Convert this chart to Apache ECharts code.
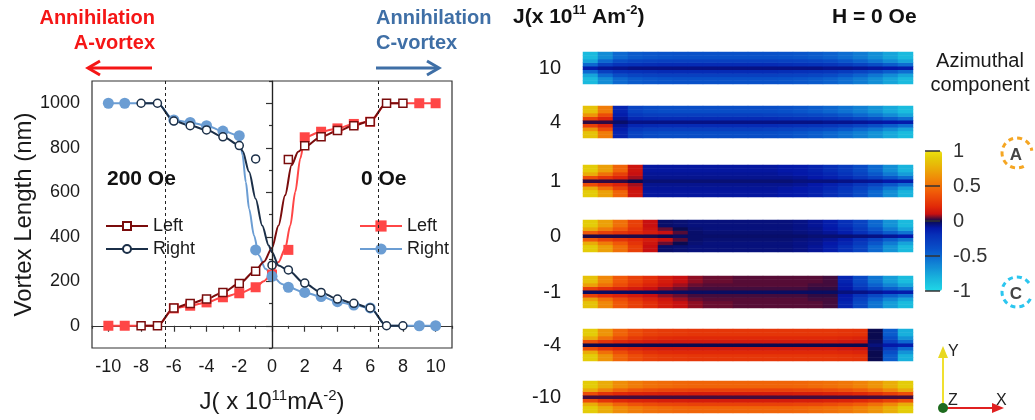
<!DOCTYPE html>
<html><head><meta charset="utf-8">
<script src="https://cdn.jsdelivr.net/npm/echarts@6/dist/echarts.min.js"></script>
<style>html,body{margin:0;padding:0;background:#fff}#c{width:1035px;height:420px}</style>
</head><body><div id="c"></div>
<script>
// ---------------- data: left panel (J in 1e11 A/m^2, vortex length in nm) ----------------
const pts0Left   = [[-10,0],[-9,0],[-6,78],[-5,90],[-4,105],[-3,128],[-2,146],[-1,173],[0,230],[1,341],[2,847],[3,872],[4,887],[5,907],[6,917],[9,1000],[10,1000]];
const pts0Right  = [[-10,1000],[-9,1000],[-6,925],[-5,914],[-4,899],[-3,875],[-2,854],[-1,341],[0,222],[1,173],[2,150],[3,131],[4,108],[5,93],[6,80],[9,0],[10,0]];
const pts200Left = [[-8,0],[-7,0],[-6,80],[-5,100],[-4,120],[-3,150],[-2,190],[-1,245],[1,747],[2,809],[3,849],[4,878],[5,899],[6,917],[7,1000],[8,1000]];
const pts200Right= [[-8,1000],[-7,1000],[-6,920],[-5,899],[-4,880],[-3,849],[-2,810],[-1,750],[0,272],[1,251],[2,192],[3,150],[4,120],[5,101],[6,80],[7,0],[8,0]];
// fitted curves
const fit0Left   = [[-10,0],[-9,0],[-8,0],[-7,0],[-6,78],[-5,90],[-4,105],[-3,128],[-2,146],[-1,173],[-0.5,200],[0,238],[0.4,286],[0.8,346],[1.12,451],[1.42,601],[1.73,752],[2,847],[3,872],[4,887],[5,907],[6,917],[7,1000],[8,1000],[9,1000],[10,1000]];
const fit0Right  = [[-10,1000],[-9,1000],[-8,1000],[-7,1000],[-6,925],[-5,914],[-4,899],[-3,875],[-2,854],[-1.8,767],[-1.6,646],[-1.4,526],[-1.1,406],[-0.8,316],[-0.4,256],[0,226],[0.6,188],[1,173],[2,150],[3,131],[4,108],[5,93],[6,80],[7,0],[8,0],[9,0],[10,0]];
const fit200Left = [[-8,0],[-7,0],[-6,80],[-5,100],[-4,120],[-3,150],[-2,190],[-1,248],[-0.5,288],[0,350],[0.4,451],[0.8,586],[1.2,722],[1.6,782],[2,805],[3,850],[4,875],[5,900],[6,920],[7,1000],[8,1000]];
const fit200Right= [[-8,1000],[-7,1000],[-6,920],[-5,900],[-4,880],[-3,850],[-2,812],[-1.8,785],[-1.4,692],[-1,571],[-0.6,451],[-0.2,361],[0,330],[0.4,271],[1,248],[2,190],[3,150],[4,120],[5,100],[6,80],[7,0],[8,0]];
const markJ = [-6.5, 6.5];

// ---------------- data: right panel, azimuthal component along each strip ----------------
// rows per strip: [outer edge, mid, inner, centre line]; 22 samples along the wire
const s10 = [
 [-0.85,-0.65,-0.5,-0.44,-0.42,-0.41,-0.4,-0.4,-0.4,-0.4,-0.4,-0.4,-0.4,-0.41,-0.42,-0.44,-0.47,-0.52,-0.58,-0.66,-0.75,-0.85],
 [-0.75,-0.5,-0.38,-0.33,-0.31,-0.3,-0.3,-0.3,-0.3,-0.3,-0.3,-0.3,-0.3,-0.31,-0.32,-0.34,-0.37,-0.42,-0.48,-0.56,-0.65,-0.75],
 [-0.5,-0.3,-0.22,-0.2,-0.19,-0.18,-0.18,-0.18,-0.18,-0.18,-0.18,-0.18,-0.18,-0.19,-0.2,-0.21,-0.23,-0.27,-0.32,-0.38,-0.45,-0.52],
 [-0.12,-0.08,-0.07,-0.06,-0.06,-0.06,-0.06,-0.06,-0.06,-0.06,-0.06,-0.06,-0.06,-0.06,-0.06,-0.06,-0.07,-0.07,-0.08,-0.09,-0.1,-0.12]];
const s4 = [
 [0.85,0.55,-0.15,-0.32,-0.36,-0.38,-0.38,-0.38,-0.38,-0.38,-0.38,-0.38,-0.38,-0.4,-0.42,-0.45,-0.49,-0.54,-0.6,-0.68,-0.77,-0.86],
 [0.65,0.35,-0.12,-0.25,-0.28,-0.29,-0.29,-0.29,-0.29,-0.29,-0.29,-0.29,-0.3,-0.31,-0.33,-0.35,-0.38,-0.43,-0.49,-0.56,-0.65,-0.75],
 [0.3,0.18,-0.08,-0.16,-0.17,-0.18,-0.18,-0.18,-0.18,-0.18,-0.18,-0.18,-0.18,-0.19,-0.2,-0.21,-0.23,-0.27,-0.32,-0.38,-0.45,-0.52],
 [0.02,0.02,-0.03,-0.06,-0.06,-0.06,-0.06,-0.06,-0.06,-0.06,-0.06,-0.06,-0.06,-0.06,-0.06,-0.06,-0.07,-0.07,-0.08,-0.09,-0.1,-0.12]];
const s1 = [
 [0.9,0.7,0.45,0.12,-0.09,-0.09,-0.09,-0.09,-0.09,-0.09,-0.09,-0.09,-0.09,-0.1,-0.11,-0.14,-0.19,-0.26,-0.36,-0.5,-0.66,-0.82],
 [0.75,0.5,0.3,0.1,-0.08,-0.08,-0.08,-0.08,-0.08,-0.08,-0.08,-0.08,-0.08,-0.09,-0.1,-0.12,-0.16,-0.22,-0.31,-0.43,-0.57,-0.72],
 [0.35,0.25,0.18,0.08,-0.07,-0.07,-0.07,-0.07,-0.07,-0.07,-0.07,-0.07,-0.07,-0.07,-0.08,-0.1,-0.13,-0.17,-0.24,-0.32,-0.42,-0.52],
 [0.02,0.02,0.02,0,-0.04,-0.04,-0.04,-0.04,-0.04,-0.04,-0.04,-0.04,-0.04,-0.04,-0.05,-0.05,-0.05,-0.06,-0.07,-0.08,-0.1,-0.12]];
const s0 = [
 [0.9,0.7,0.5,0.3,0.1,-0.03,-0.04,-0.05,-0.05,-0.05,-0.05,-0.05,-0.05,-0.05,-0.06,-0.08,-0.12,-0.2,-0.32,-0.5,-0.68,-0.85],
 [0.75,0.55,0.4,0.25,0.12,0.05,0,-0.04,-0.05,-0.05,-0.05,-0.05,-0.05,-0.05,-0.06,-0.07,-0.1,-0.16,-0.26,-0.42,-0.58,-0.75],
 [0.4,0.3,0.25,0.2,0.15,0.1,0.04,-0.03,-0.04,-0.04,-0.04,-0.04,-0.04,-0.04,-0.05,-0.06,-0.08,-0.12,-0.2,-0.32,-0.45,-0.55],
 [0.01,0.01,0.01,0.01,0.01,0,-0.02,-0.03,-0.03,-0.03,-0.03,-0.03,-0.03,-0.03,-0.03,-0.04,-0.04,-0.04,-0.05,-0.06,-0.08,-0.1]];
const sm1 = [
 [0.85,0.6,0.4,0.3,0.22,0.15,0.1,0.07,0.05,0.05,0.04,0.04,0.04,0.04,0.04,0.04,0.03,-0.15,-0.35,-0.55,-0.72,-0.86],
 [0.7,0.5,0.35,0.25,0.18,0.12,0.08,0.05,0.04,0.04,0.04,0.04,0.04,0.04,0.04,0.03,0.03,-0.12,-0.3,-0.47,-0.62,-0.76],
 [0.3,0.22,0.18,0.14,0.1,0.07,0.05,0.03,0.03,0.03,0.03,0.03,0.03,0.03,0.03,0.02,0.02,-0.1,-0.22,-0.35,-0.46,-0.55],
 [-0.02,-0.02,-0.02,-0.02,-0.02,-0.02,-0.02,-0.02,-0.02,-0.02,-0.02,-0.02,-0.02,-0.02,-0.02,-0.02,-0.02,-0.05,-0.06,-0.08,-0.1,-0.12]];
const sm4 = [
 [0.9,0.65,0.45,0.35,0.3,0.28,0.27,0.26,0.26,0.26,0.26,0.26,0.26,0.26,0.26,0.26,0.26,0.25,0.24,0,-0.45,-0.8],
 [0.75,0.5,0.35,0.27,0.23,0.21,0.2,0.2,0.2,0.2,0.2,0.2,0.2,0.2,0.2,0.2,0.2,0.19,0.18,0,-0.38,-0.68],
 [0.35,0.25,0.2,0.17,0.15,0.14,0.14,0.14,0.14,0.14,0.14,0.14,0.14,0.14,0.14,0.14,0.14,0.13,0.12,-0.02,-0.28,-0.5],
 [0,0,0,0,0,0,0,0,0,0,0,0,0,0,0,0,0,0,0,-0.05,-0.1,-0.12]];
const sm10 = [
 [0.9,0.75,0.62,0.55,0.5,0.48,0.46,0.45,0.45,0.45,0.45,0.45,0.45,0.45,0.46,0.48,0.5,0.53,0.58,0.65,0.76,0.9],
 [0.75,0.58,0.45,0.38,0.35,0.33,0.32,0.31,0.31,0.31,0.31,0.31,0.31,0.31,0.32,0.33,0.35,0.38,0.42,0.5,0.6,0.75],
 [0.35,0.25,0.2,0.18,0.17,0.16,0.16,0.15,0.15,0.15,0.15,0.15,0.15,0.15,0.16,0.16,0.17,0.18,0.2,0.24,0.3,0.36],
 [0.03,0.03,0.03,0.03,0.03,0.03,0.03,0.03,0.03,0.03,0.03,0.03,0.03,0.03,0.03,0.03,0.03,0.03,0.03,0.03,0.03,0.03]];
const stripLabels = ['10','4','1','0','-1','-4','-10'];
const stripMaps = [s10, s4, s1, s0, sm1, sm4, sm10];

// ---------------- layout / style ----------------
const FONT = '"Liberation Sans", Arial, sans-serif';
const C = {dr:'#7a0c0c', nv:'#1b2f48', rd:'#ff4646', bl:'#6b9dd3', txt:'#1a1a1a', ax:'#333'};
const STRIP_TOP = [52,106,165,220,276,329,381];
const STRIP_LEFT = 583, STRIP_W = 330, STRIP_H = 32;
const ROWMAP = [0,0,1,2,3,2,1,0,0];
const PALETTE = ['#20d8e8','#1cc4e0','#18b0dc','#1498d8','#1080d4','#0c68d0','#0850c8','#0840c0','#0630b8','#0418a8',
                 '#0a0a50',
                 '#c81010','#e02808','#e84008','#f05808','#f07008','#f08808','#eca008','#e8b808','#e4cc08','#f0e010'];

const chart = echarts.init(document.getElementById('c'), null, {renderer:'canvas'});

const grids = [{left:92, top:81, width:360, height:267, show:true, borderColor:C.ax, borderWidth:1.2, backgroundColor:'transparent'}];
const xAxes = [
  {gridIndex:0, type:'value', min:-11, max:11, interval:2, position:'bottom',
   axisLine:{lineStyle:{color:C.ax, width:1.2}}, axisTick:{length:3, lineStyle:{color:C.ax, width:1.2}},
   minorTick:{show:true, splitNumber:2, length:6, lineStyle:{color:C.ax, width:1.2}},
   axisLabel:{show:false}, splitLine:{show:false}},
  {gridIndex:0, type:'value', min:-11, max:11, interval:1, position:'bottom',
   axisLine:{show:false}, axisTick:{show:false}, splitLine:{show:false},
   axisLabel:{margin:10, fontSize:18, color:C.txt, fontFamily:FONT, formatter:v => (Math.abs(v) % 2 === 0 && Math.abs(v) <= 10) ? String(v) : ''},
   name:'{n|J( x 10}{s|11}{n|mA}{s|-2}{n|)}', nameLocation:'middle', nameGap:40,
   nameTextStyle:{rich:{n:{fontSize:24, fontFamily:FONT, color:C.txt, lineHeight:28}, s:{fontSize:15, fontFamily:FONT, color:C.txt, lineHeight:15, verticalAlign:'top'}}}}
];
const yAxes = [
  {gridIndex:0, type:'value', min:-100, max:1100, interval:200, position:'left',
   axisLine:{show:true, lineStyle:{color:C.ax, width:1.2}}, axisTick:{length:3, lineStyle:{color:C.ax, width:1.2}},
   minorTick:{show:true, splitNumber:2, length:6, lineStyle:{color:C.ax, width:1.2}},
   axisLabel:{show:false}, splitLine:{show:false}},
  {gridIndex:0, type:'value', min:-100, max:1100, interval:100, position:'left', offset:0,
   axisLine:{show:false}, axisTick:{show:false}, splitLine:{show:false},
   axisLabel:{margin:12, fontSize:18, color:C.txt, fontFamily:FONT, formatter:v => (v % 200 === 0 && v >= 0 && v <= 1000) ? String(v) : ''},
   name:'Vortex Length (nm)', nameLocation:'middle', nameGap:56,
   nameTextStyle:{fontSize:24, color:C.txt, fontFamily:FONT}}
];

const series = [
  {type:'line', name:'fit0L', data:fit0Left, xAxisIndex:0, yAxisIndex:0, smooth:0.3, smoothMonotone:'x', symbol:'none', lineStyle:{color:C.rd, width:2}, z:2,
   markLine:{silent:true, symbol:['none','none'], label:{show:false},
     data:[{xAxis:0, lineStyle:{type:'solid', color:'#222', width:1.2}}].concat(markJ.map(v => ({xAxis:v, lineStyle:{type:[3,3], color:'#222', width:1}})))}},
  {type:'line', name:'fit0R', data:fit0Right, xAxisIndex:0, yAxisIndex:0, smooth:0.3, smoothMonotone:'x', symbol:'none', lineStyle:{color:C.bl, width:2}, z:2},
  {type:'line', name:'fit200L', data:fit200Left, xAxisIndex:0, yAxisIndex:0, smooth:0.3, smoothMonotone:'x', symbol:'none', lineStyle:{color:C.dr, width:2}, z:2},
  {type:'line', name:'fit200R', data:fit200Right, xAxisIndex:0, yAxisIndex:0, smooth:0.3, smoothMonotone:'x', symbol:'none', lineStyle:{color:C.nv, width:2}, z:2},
  {type:'line', name:'0 Oe Left', data:pts0Left, xAxisIndex:0, yAxisIndex:0, symbol:'rect', symbolSize:10, itemStyle:{color:C.rd}, lineStyle:{color:C.rd, width:2, opacity:0}, z:3},
  {type:'line', name:'0 Oe Right', data:pts0Right, xAxisIndex:0, yAxisIndex:0, symbol:'circle', symbolSize:11, itemStyle:{color:C.bl}, lineStyle:{color:C.bl, width:2, opacity:0}, z:3},
  {type:'line', name:'200 Oe Left', data:pts200Left, xAxisIndex:0, yAxisIndex:0, symbol:'rect', symbolSize:8, itemStyle:{color:'#fff', borderColor:C.dr, borderWidth:1.5}, lineStyle:{color:C.dr, width:2, opacity:0}, z:4},
  {type:'line', name:'200 Oe Right', data:pts200Right, xAxisIndex:0, yAxisIndex:0, symbol:'circle', symbolSize:8, itemStyle:{color:'#fff', borderColor:C.nv, borderWidth:1.5}, lineStyle:{color:C.nv, width:2, opacity:0}, z:4}
];

const cols = s10[0].map((_, i) => i);
const rows = ROWMAP.map((_, i) => i);
const heatIdx = [];
stripMaps.forEach((map, k) => {
  const g = grids.length;
  grids.push({left:STRIP_LEFT, top:STRIP_TOP[k], width:STRIP_W, height:STRIP_H, show:false});
  const xi = xAxes.length, yi = yAxes.length;
  xAxes.push({gridIndex:g, type:'category', data:cols, show:false});
  yAxes.push({gridIndex:g, type:'category', data:rows, axisLine:{show:false}, axisTick:{show:false}, axisLabel:{show:false}, splitLine:{show:false},
    name:stripLabels[k], nameLocation:'middle', nameRotate:0, nameGap:22, nameTextStyle:{fontSize:20, color:C.txt, fontFamily:FONT, align:'right', verticalAlign:'middle'}});
  const data = [];
  ROWMAP.forEach((p, r) => map[p].forEach((v, c) => data.push([c, r, v])));
  heatIdx.push(series.length);
  series.push({type:'heatmap', xAxisIndex:xi, yAxisIndex:yi, data, progressive:0, itemStyle:{borderWidth:0}, emphasis:{disabled:true}});
});

// colour-bar tick axis
const gcb = grids.length;
grids.push({left:925, top:151, width:10, height:140, show:false});
xAxes.push({gridIndex:gcb, type:'value', show:false, min:0, max:1});
yAxes.push({gridIndex:gcb, type:'value', min:-1, max:1, interval:0.5, position:'right', z:10,
  axisLine:{show:false}, splitLine:{show:false},
  axisTick:{show:true, length:15, lineStyle:{color:'#333', width:1.5}},
  axisLabel:{margin:18, fontSize:20, color:'#333', fontFamily:FONT, formatter:v => String(v)}});

const T = (x, y, text, o) => Object.assign({type:'text', x, y, style:Object.assign({text, fontFamily:FONT, fontSize:20, fill:C.txt, align:'left', verticalAlign:'middle'}, o || {})});
const RED = '#f51616', BLUE = '#3f6fa6';
const graphic = [
  T(155, 18, 'Annihilation', {align:'right', fontWeight:'bold', fill:RED}),
  T(155, 43, 'A-vortex', {align:'right', fontWeight:'bold', fill:RED}),
  T(376, 18, 'Annihilation', {fontWeight:'bold', fill:BLUE}),
  T(376, 43, 'C-vortex', {fontWeight:'bold', fill:BLUE}),
  {type:'polyline', shape:{points:[[152,68],[89,68]]}, style:{stroke:RED, lineWidth:3}},
  {type:'polyline', shape:{points:[[100,61],[88,68],[100,75]]}, style:{stroke:RED, lineWidth:3, fill:null}},
  {type:'polyline', shape:{points:[[376,68],[438,68]]}, style:{stroke:BLUE, lineWidth:3}},
  {type:'polyline', shape:{points:[[427,61],[439,68],[427,75]]}, style:{stroke:BLUE, lineWidth:3, fill:null}},
  T(107, 179, '200 Oe', {fontWeight:'bold', fontSize:21, fill:'#111'}),
  T(361, 179, '0 Oe', {fontWeight:'bold', fontSize:21, fill:'#111'}),
  {type:'text', x:513, y:17, style:{text:'{n|J(x 10}{s|11}{n| Am}{s|-2}{n|)}', rich:{n:{fontSize:21, fontWeight:'bold', fontFamily:FONT, fill:'#111', lineHeight:26}, s:{fontSize:13, fontWeight:'bold', fontFamily:FONT, fill:'#111', lineHeight:13, verticalAlign:'top'}}, verticalAlign:'middle'}},
  T(832, 17, 'H = 0 Oe', {fontWeight:'bold', fontSize:21, fill:'#111'}),
  T(980, 61, 'Azimuthal', {align:'center'}),
  T(980, 85, 'component', {align:'center'}),
  // circulation icons
  {type:'arc', shape:{cx:1017, cy:153, r:15, startAngle:Math.PI*0.35, endAngle:Math.PI*1.95}, style:{stroke:'#f5a623', lineWidth:3, lineDash:[5,4], fill:null}},
  T(1016, 155, 'A', {align:'center', fontWeight:'bold', fontSize:17, fill:'#444'}),
  {type:'arc', shape:{cx:1017, cy:292, r:15, startAngle:Math.PI*0.15, endAngle:Math.PI*1.8}, style:{stroke:'#2cc6ef', lineWidth:3, lineDash:[5,4], fill:null}},
  T(1016, 294, 'C', {align:'center', fontWeight:'bold', fontSize:17, fill:'#444'}),
  // axis triad
  {type:'line', shape:{x1:943, y1:408, x2:943, y2:356}, style:{stroke:'#f0e030', lineWidth:2}},
  {type:'polygon', shape:{points:[[943,346],[938,358],[948,358]]}, style:{fill:'#e8d820'}},
  {type:'line', shape:{x1:943, y1:408, x2:993, y2:408}, style:{stroke:'#e02020', lineWidth:2}},
  {type:'polygon', shape:{points:[[1004,408],[992,403],[992,413]]}, style:{fill:'#e02020'}},
  {type:'circle', shape:{cx:943, cy:408, r:5}, style:{fill:'#1e6b1e'}},
  T(948, 352, 'Y', {fontSize:16, fill:'#222'}),
  T(948, 401, 'Z', {fontSize:16, fill:'#222'}),
  T(996, 401, 'X', {fontSize:16, fill:'#222'})
];

const legendBase = {orient:'vertical', itemWidth:42, padding:0, itemGap:5, top:217, selectedMode:false,
  textStyle:{fontSize:18, lineHeight:16, color:C.txt, fontFamily:FONT}, lineStyle:{opacity:1, width:2},
  formatter:n => n.indexOf('Left') >= 0 ? 'Left' : 'Right'};

chart.setOption({
  animation:false,
  textStyle:{fontFamily:FONT},
  grid:grids, xAxis:xAxes, yAxis:yAxes, series,
  legend:[Object.assign({left:105, itemHeight:10, data:['200 Oe Left','200 Oe Right']}, legendBase),
          Object.assign({left:359, itemHeight:14, data:['0 Oe Left','0 Oe Right']}, legendBase)],
  visualMap:{type:'continuous', min:-1, max:1, seriesIndex:heatIdx, left:925, top:151, itemWidth:17, itemHeight:140,
    padding:0, calculable:false, text:null, showLabel:false, hoverLink:false, inRange:{color:PALETTE}},
  graphic
});
</script></body></html>
